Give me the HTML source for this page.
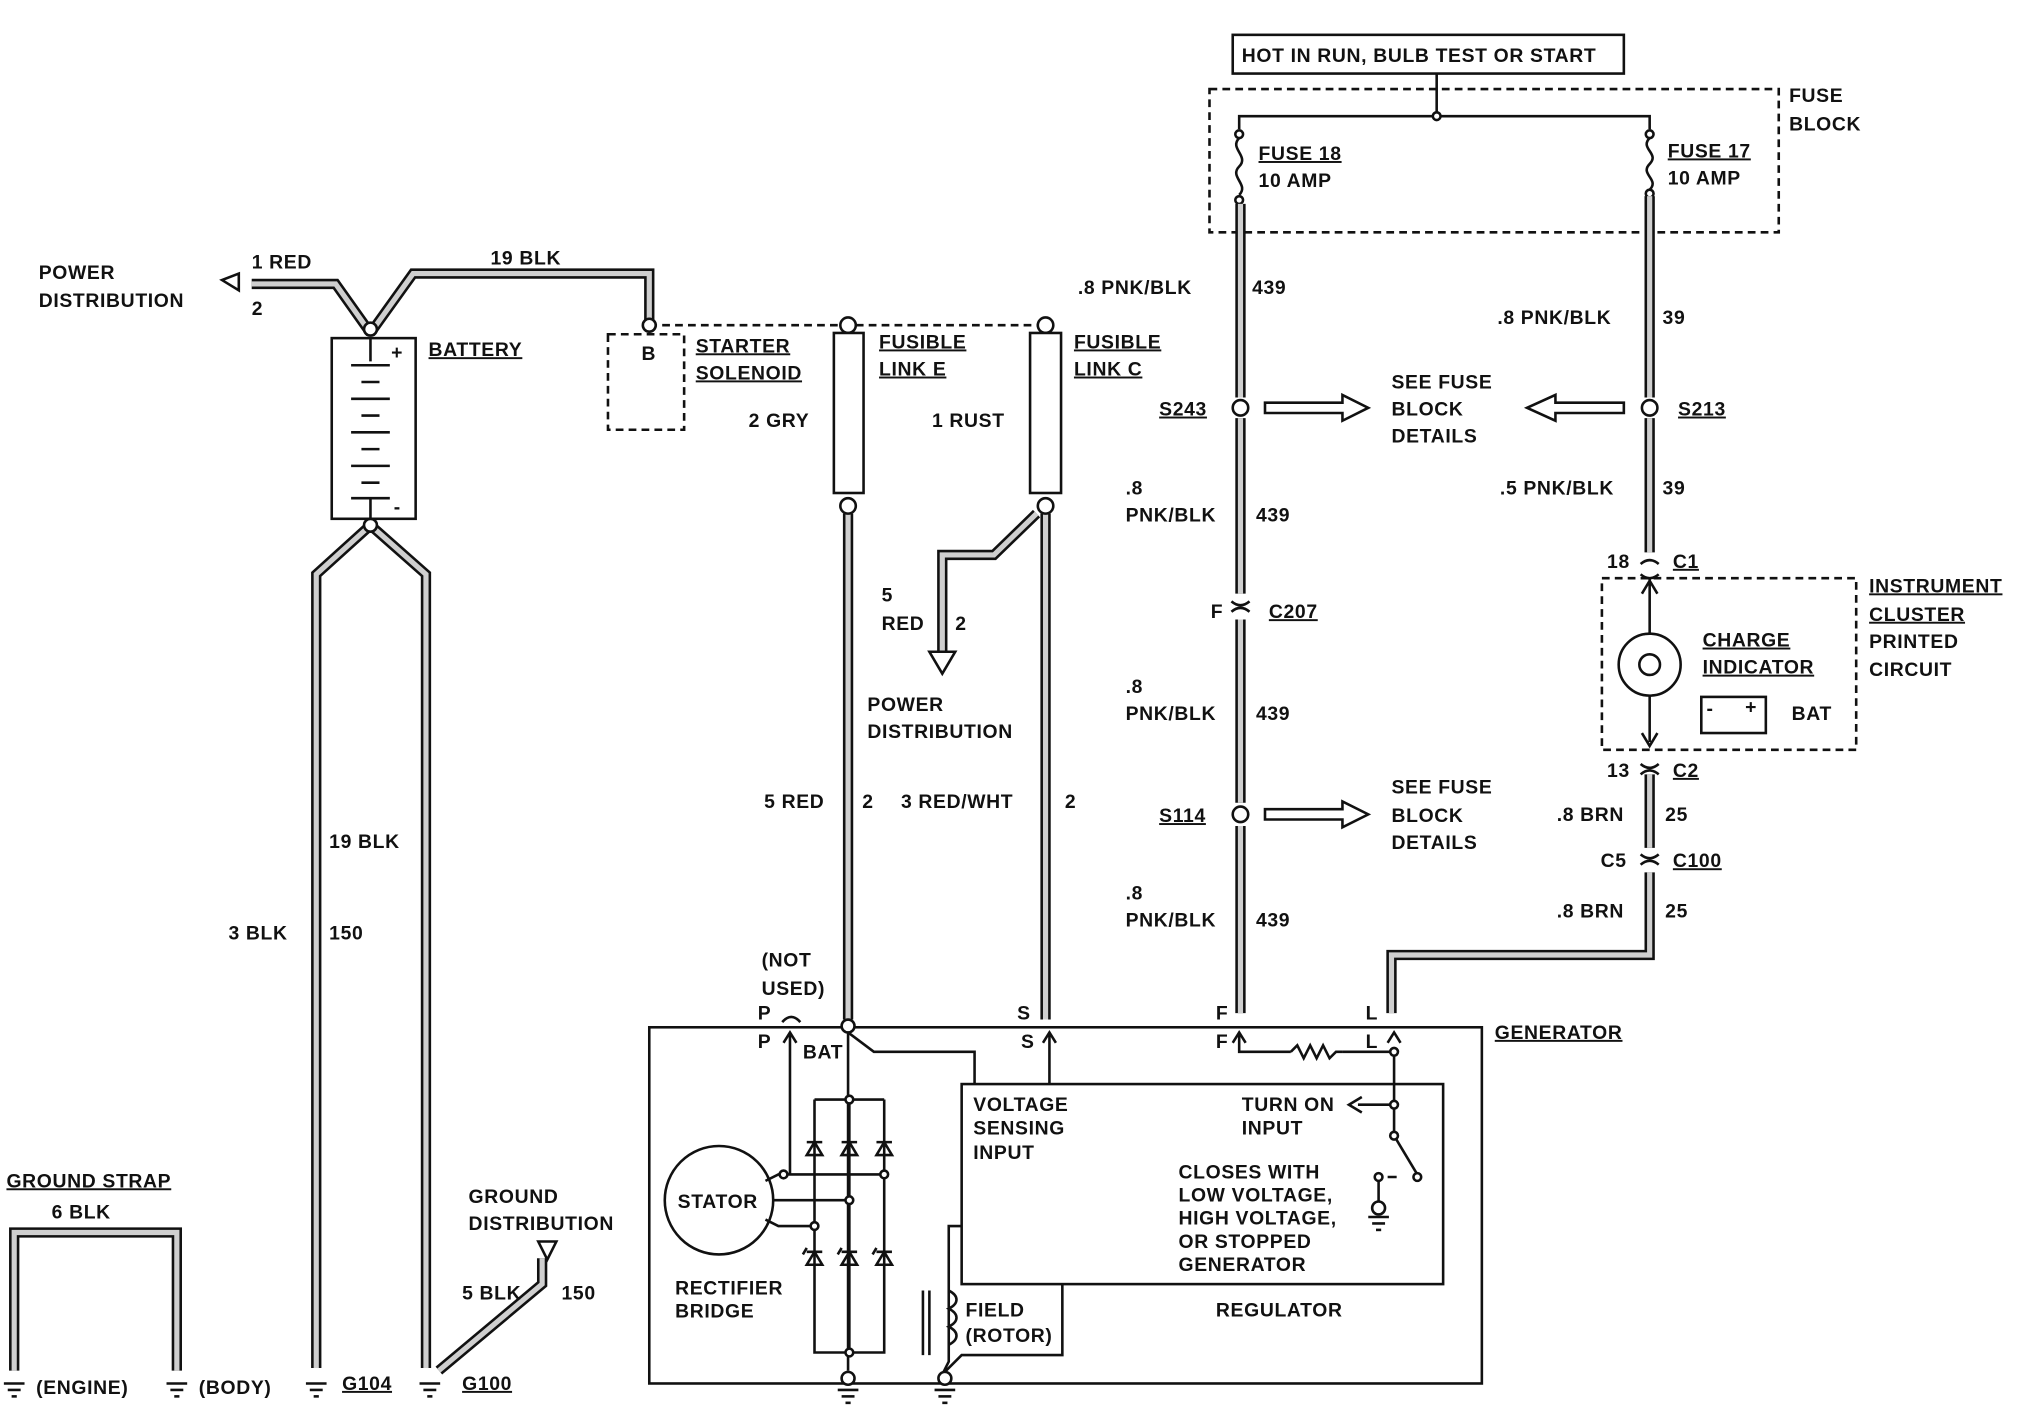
<!DOCTYPE html><html><head><meta charset="utf-8"><style>
html,body{margin:0;padding:0;background:#fff}
svg{display:block}
text{font-family:"Liberation Sans",sans-serif;font-weight:bold;font-size:15px;fill:#111;letter-spacing:0.5px}
.w1{stroke:#111;stroke-width:8;fill:none}
.w2{stroke:#cfcfcf;stroke-width:4;fill:none}
.l{stroke:#111;stroke-width:2;fill:none}
.d{stroke:#111;stroke-width:2;fill:none;stroke-dasharray:6 4}
.c{fill:#fff;stroke:#111;stroke-width:2}
</style></head><body>
<svg width="2024" height="1408" viewBox="0 0 1568 1091" preserveAspectRatio="none" xmlns="http://www.w3.org/2000/svg">
<defs>
<g id="gnd"><line x1="-8" y1="0" x2="8" y2="0" class="l"/><line x1="-5" y1="5" x2="5" y2="5" class="l"/><line x1="-2" y1="10" x2="2" y2="10" class="l"/></g>
</defs>
<rect x="955" y="27" width="303" height="30" class="l"/>
<text x="962" y="48">HOT IN RUN, BULB TEST OR START</text>
<rect x="937" y="69" width="441" height="111" class="d" stroke-width="3"/>
<text x="1386" y="79">FUSE</text><text x="1386" y="101">BLOCK</text>
<path d="M1113 57V90M960 100V90H1278V100" class="l"/>
<circle cx="1113" cy="90" r="3" class="c"/>
<circle cx="960" cy="104" r="3" class="c"/><circle cx="960" cy="155" r="3" class="c"/>
<circle cx="1278" cy="104" r="3" class="c"/><circle cx="1278" cy="150" r="3" class="c"/>
<path d="M960 107c-8 8 8 14 0 22s8 14 0 22" class="l"/>
<path d="M1278 107c-8 8 8 12 0 20s8 12 0 20" class="l"/>
<text x="975" y="124" text-decoration="underline">FUSE 18</text><text x="975" y="145">10 AMP</text>
<text x="1292" y="122" text-decoration="underline">FUSE 17</text><text x="1292" y="143">10 AMP</text>
<g>
<path class="w1" d="M961 158V308M961 324V460M961 480V622M961 640V785"/>
<path class="w2" d="M961 158V308M961 324V460M961 480V622M961 640V785"/>
<path class="w1" d="M1278 152V308M1278 324V428M1278 600V657M1278 676V740H1078V785"/>
<path class="w2" d="M1278 152V308M1278 324V428M1278 600V657M1278 676V740H1078V785"/>
<path class="w1" d="M657 398V790M810 398V790M803 398L770 430H730V508"/>
<path class="w2" d="M657 398V790M810 398V790M803 398L770 430H730V508"/>
<path class="w1" d="M287 258L320 212H503V248M287 258L260 220H195M287 407L245 445V1060M287 407L330 445V1060M340 1062L420 995V975"/>
<path class="w2" d="M287 258L320 212H503V248M287 258L260 220H195M287 407L245 445V1060M287 407L330 445V1060M340 1062L420 995V975"/>
</g>
<path d="M185 212L172 217L185 225Z" class="c"/>
<path d="M720 505H740L730 522Z" class="c"/>
<path d="M417 962H431L424 976Z" class="c"/>
<circle cx="961" cy="316" r="6" class="c"/><circle cx="961" cy="631" r="6" class="c"/><circle cx="1278" cy="316" r="6" class="c"/>
<path d="M980 312H1040V306L1060 316L1040 326V320H980Z" class="c"/>
<path d="M980 627H1040V621L1060 631L1040 641V635H980Z" class="c"/>
<path d="M1258 312H1205V306L1183 316L1205 326V320H1258Z" class="c"/>
<text x="898" y="322" text-decoration="underline">S243</text><text x="1300" y="322" text-decoration="underline">S213</text>
<text x="898" y="637" text-decoration="underline">S114</text>
<text x="1078" y="301">SEE FUSE</text><text x="1078" y="322">BLOCK</text><text x="1078" y="343">DETAILS</text>
<text x="1078" y="615">SEE FUSE</text><text x="1078" y="637">BLOCK</text><text x="1078" y="658">DETAILS</text>
<text x="835" y="228">.8 PNK/BLK</text><text x="970" y="228">439</text>
<text x="1160" y="251">.8 PNK/BLK</text><text x="1288" y="251">39</text>
<text x="872" y="383">.8</text><text x="872" y="404">PNK/BLK</text><text x="973" y="404">439</text>
<text x="1162" y="383">.5 PNK/BLK</text><text x="1288" y="383">39</text>
<path d="M954 466q7 6 14 0M954 474q7-6 14 0" class="l"/>
<text x="938" y="479">F</text><text x="983" y="479" text-decoration="underline">C207</text>
<text x="872" y="537">.8</text><text x="872" y="558">PNK/BLK</text><text x="973" y="558">439</text>
<text x="872" y="697">.8</text><text x="872" y="718">PNK/BLK</text><text x="973" y="718">439</text>
<path d="M1271 437q7-6 14 0M1271 445q7 6 14 0" class="l"/>
<text x="1245" y="440">18</text><text x="1296" y="440" text-decoration="underline">C1</text>
<rect x="1241" y="448" width="197" height="133" class="d"/>
<text x="1448" y="459" text-decoration="underline">INSTRUMENT</text><text x="1448" y="481" text-decoration="underline">CLUSTER</text>
<text x="1448" y="502">PRINTED</text><text x="1448" y="524">CIRCUIT</text>
<path d="M1278 448V575M1272 460L1278 450L1284 460M1272 568L1278 578L1284 568" class="l"/>
<circle cx="1278" cy="515" r="24" class="c" stroke-width="3"/>
<circle cx="1278" cy="515" r="8" class="l"/>
<text x="1319" y="501" text-decoration="underline">CHARGE</text><text x="1319" y="522" text-decoration="underline">INDICATOR</text>
<rect x="1318" y="540" width="50" height="28" class="l"/><text x="1388" y="558">BAT</text>
<text x="1322" y="554">-</text><text x="1352" y="553">+</text>
<path d="M1271 592q7 6 14 0M1271 600q7-6 14 0" class="l"/>
<text x="1245" y="602">13</text><text x="1296" y="602" text-decoration="underline">C2</text>
<text x="1206" y="636">.8 BRN</text><text x="1290" y="636">25</text>
<path d="M1271 662q7 6 14 0M1271 670q7-6 14 0" class="l"/>
<text x="1240" y="672">C5</text><text x="1296" y="672" text-decoration="underline">C100</text>
<text x="1206" y="711">.8 BRN</text><text x="1290" y="711">25</text>
<text x="30" y="216">POWER</text><text x="30" y="238">DISTRIBUTION</text>
<text x="195" y="208">1 RED</text><text x="195" y="244">2</text>
<text x="380" y="205">19 BLK</text>
<circle cx="287" cy="255" r="5" class="c"/><circle cx="287" cy="407" r="5" class="c"/>
<rect x="257" y="262" width="65" height="140" class="l" stroke-width="3"/>
<path d="M287 262V280M287 386V402" class="l"/>
<path d="M272 283H302M280 296H294M272 309H302M280 322H294M272 335H302M280 348H294M272 361H302M280 374H294M272 386H302" class="l"/>
<text x="303" y="278">+</text><text x="305" y="398">-</text>
<text x="332" y="276" text-decoration="underline">BATTERY</text>
<path d="M503 252H810" class="d"/>
<circle cx="503" cy="252" r="5" class="c"/><circle cx="657" cy="252" r="6" class="c"/><circle cx="810" cy="252" r="6" class="c"/>
<rect x="471" y="259" width="59" height="74" class="d"/><text x="497" y="279" font-size="12">B</text>
<text x="539" y="273" text-decoration="underline">STARTER</text><text x="539" y="294" text-decoration="underline">SOLENOID</text>
<rect x="646" y="258" width="23" height="124" class="c"/><rect x="798" y="258" width="24" height="124" class="c"/>
<circle cx="657" cy="392" r="6" class="c"/><circle cx="810" cy="392" r="6" class="c"/>
<text x="681" y="270" text-decoration="underline">FUSIBLE</text><text x="681" y="291" text-decoration="underline">LINK E</text>
<text x="832" y="270" text-decoration="underline">FUSIBLE</text><text x="832" y="291" text-decoration="underline">LINK C</text>
<text x="580" y="331">2 GRY</text><text x="722" y="331">1 RUST</text>
<text x="683" y="466">5</text><text x="683" y="488">RED</text><text x="740" y="488">2</text>
<text x="672" y="551">POWER</text><text x="672" y="572">DISTRIBUTION</text>
<text x="592" y="626">5 RED</text><text x="668" y="626">2</text>
<text x="698" y="626">3 RED/WHT</text><text x="825" y="626">2</text>
<text x="255" y="657">19 BLK</text><text x="177" y="728">3 BLK</text><text x="255" y="728">150</text>
<text x="5" y="920" text-decoration="underline">GROUND STRAP</text><text x="40" y="944">6 BLK</text>
<path d="M11 1062V955H137V1062" class="w1"/><path d="M11 1062V955H137V1062" class="w2"/>
<g transform="translate(11,1072)"><use href="#gnd"/></g><g transform="translate(137,1072)"><use href="#gnd"/></g>
<g transform="translate(245,1072)"><use href="#gnd"/></g><g transform="translate(333,1072)"><use href="#gnd"/></g>
<text x="28" y="1080">(ENGINE)</text><text x="154" y="1080">(BODY)</text>
<text x="265" y="1077" text-decoration="underline">G104</text><text x="358" y="1077" text-decoration="underline">G100</text>
<text x="363" y="932">GROUND</text><text x="363" y="953">DISTRIBUTION</text>
<text x="358" y="1007">5 BLK</text><text x="435" y="1007">150</text>
<text x="590" y="749">(NOT</text><text x="590" y="771">USED)</text>
<text x="587" y="790">P</text><text x="788" y="790">S</text><text x="942" y="790">F</text><text x="1058" y="790">L</text>
<path d="M606 792q7-8 14 0" class="l"/>
<rect x="503" y="796" width="645" height="276" class="l" stroke-width="3"/>
<text x="1158" y="805" text-decoration="underline">GENERATOR</text>
<path d="M612 800V910M607 808L612 800L617 808M657 790V1062M657 800L677 815H755V840M813 800V840M808 808L813 800L818 808M960 800V815H1000M1040 815H1080V880M955 808L960 800L965 808M1075 808L1080 800L1085 808" class="l"/>
<path d="M1000 815l5-5 5 10 5-10 5 10 5-10 5 10 5-5h5" class="l"/>
<text x="587" y="812">P</text><text x="622" y="820">BAT</text><text x="791" y="812">S</text><text x="942" y="812">F</text><text x="1058" y="812">L</text>
<circle cx="657" cy="795" r="5" class="c"/>
<rect x="745" y="840" width="373" height="155" class="l" stroke-width="3"/>
<text x="754" y="861">VOLTAGE</text><text x="754" y="879">SENSING</text><text x="754" y="898">INPUT</text>
<text x="962" y="861">TURN ON</text><text x="962" y="879">INPUT</text>
<text x="913" y="913">CLOSES WITH</text><text x="913" y="931">LOW VOLTAGE,</text><text x="913" y="949">HIGH VOLTAGE,</text><text x="913" y="967">OR STOPPED</text><text x="913" y="985">GENERATOR</text>
<text x="942" y="1020">REGULATOR</text>
<path d="M1080 856H1052M1055 850L1045 856L1055 862M1080 880L1098 910" class="l"/>
<circle cx="1080" cy="815" r="3" class="c"/><circle cx="1080" cy="856" r="3" class="c"/><circle cx="1080" cy="880" r="3" class="c"/><circle cx="1098" cy="912" r="3" class="c"/><circle cx="1068" cy="912" r="3" class="c"/>
<path d="M1068 915V932M1075 912H1082" class="l"/><circle cx="1068" cy="936" r="5" class="c"/><g transform="translate(1068,943)"><use href="#gnd"/></g>
<circle cx="557" cy="930" r="42" class="c" stroke-width="3"/><text x="525" y="936">STATOR</text>
<text x="523" y="1003">RECTIFIER</text><text x="523" y="1021">BRIDGE</text>
<path d="M631 852H685M631 852V1048H685V852M658 852V1048M593 915L603 910H685M599 930H658M593 945L603 950H631" class="l"/>
<g class="l">
<path d="M625 885H637M625 895H637L631 885Z"/><path d="M652 885H664M652 895H664L658 885Z"/><path d="M679 885H691M679 895H691L685 885Z"/>
<path d="M625 970H637M625 980H637L631 970ZM622 972l3-5"/><path d="M652 970H664M652 980H664L658 970ZM649 972l3-5"/><path d="M679 970H691M679 980H691L685 970ZM676 972l3-5"/>
</g>
<circle cx="658" cy="852" r="3" class="c"/><circle cx="607" cy="910" r="3" class="c"/><circle cx="685" cy="910" r="3" class="c"/><circle cx="658" cy="930" r="3" class="c"/><circle cx="631" cy="950" r="3" class="c"/><circle cx="658" cy="1048" r="3" class="c"/>
<path d="M745 950H735V1055L730 1065M730 1065L745 1050H823V995" class="l"/>
<path d="M735 1000c8 4 8 10 0 14c8 4 8 10 0 14c8 4 8 10 0 14" class="l"/>
<path d="M715 1000V1050M720 1000V1050" class="l"/>
<text x="748" y="1020">FIELD</text><text x="748" y="1040">(ROTOR)</text>
<circle cx="657" cy="1068" r="5" class="c"/><circle cx="732" cy="1068" r="5" class="c"/>
<g transform="translate(657,1077)"><use href="#gnd"/></g><g transform="translate(732,1077)"><use href="#gnd"/></g>
</svg>
</body></html>
